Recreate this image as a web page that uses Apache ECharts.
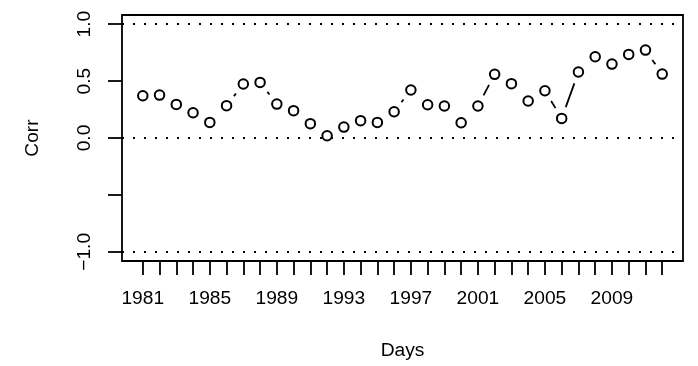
<!DOCTYPE html>
<html>
<head>
<meta charset="utf-8">
<script src="https://cdn.jsdelivr.net/npm/echarts@6/dist/echarts.min.js"></script>
<style>
html,body{margin:0;padding:0;background:#fff;}
#chart{width:698px;height:366px;}
</style>
</head>
<body>
<div id="chart"></div>
<script>
var years = [1981,1982,1983,1984,1985,1986,1987,1988,1989,1990,1991,1992,1993,1994,1995,1996,
             1997,1998,1999,2000,2001,2002,2003,2004,2005,2006,2007,2008,2009,2010,2011,2012];
var corr = [0.371,0.377,0.295,0.222,0.137,0.284,0.474,0.488,0.298,0.240,0.126,0.020,0.096,0.152,0.137,0.231,
            0.421,0.292,0.281,0.134,0.281,0.559,0.477,0.325,0.415,0.172,0.579,0.713,0.649,0.734,0.772,0.561];
var xTickLabels = ["1981","1985","1989","1993","1997","2001","2005","2009"];
var yTickValues = [-1, -0.5, 0, 0.5, 1];
var yTickLabels = ["\u22121.0", "0.0", "0.5", "1.0"];
var yLabelValues = [-1, 0, 0.5, 1];
var refLines = [-1, 0, 1];

var FONT = "'Liberation Sans', Arial, Helvetica, sans-serif";
var FS = 19.2;
var LW = 1.8;
var GAP = 12;

var points = years.map(function (y, i) { return [y, corr[i]]; });
var segs = [];
for (var i = 0; i < years.length - 1; i++) {
  segs.push([years[i], corr[i], years[i + 1], corr[i + 1]]);
}

var chart = echarts.init(document.getElementById('chart'), null, {renderer: 'canvas'});
chart.setOption({
  animation: false,
  backgroundColor: '#fff',
  grid: {
    left: 122, top: 15, width: 561, height: 246,
    show: true, borderColor: '#000', borderWidth: LW,
    backgroundColor: 'transparent',
    containLabel: false, outerBoundsMode: 'none'
  },
  xAxis: {
    type: 'value',
    position: 'bottom',
    min: years[0] - 0.04 * (years[years.length - 1] - years[0]),
    max: years[years.length - 1] + 0.04 * (years[years.length - 1] - years[0]),
    name: 'Days',
    nameLocation: 'middle',
    nameGap: 80,
    nameTextStyle: {fontFamily: FONT, fontSize: FS, color: '#000'},
    axisLine: {show: false, onZero: false},
    splitLine: {show: false},
    axisTick: {show: true, inside: false, length: 14, lineStyle: {color: '#000', width: LW},
               customValues: years},
    axisLabel: {show: true, margin: 28, fontFamily: FONT, fontSize: FS, color: '#000',
                customValues: xTickLabels.map(Number),
                formatter: function (v) { return String(v); }}
  },
  yAxis: {
    type: 'value',
    position: 'left',
    min: -1.08, max: 1.08,
    name: 'Corr',
    nameLocation: 'middle',
    nameRotate: 90,
    nameGap: 80,
    nameTextStyle: {fontFamily: FONT, fontSize: FS, color: '#000'},
    axisLine: {show: false, onZero: false},
    splitLine: {show: false},
    axisTick: {show: true, inside: false, length: 14, lineStyle: {color: '#000', width: LW},
               customValues: yTickValues},
    axisLabel: {show: true, margin: 28, rotate: 90, fontFamily: FONT, fontSize: FS, color: '#000',
                customValues: yLabelValues,
                formatter: function (v) {
                  var k = yLabelValues.indexOf(v);
                  return k >= 0 ? yTickLabels[k] : '';
                }}
  },
  series: [
    {
      type: 'custom',
      coordinateSystem: 'cartesian2d',
      silent: true,
      data: segs,
      encode: {x: [0, 2], y: [1, 3]},
      renderItem: function (params, api) {
        var p0 = api.coord([api.value(0), api.value(1)]);
        var p1 = api.coord([api.value(2), api.value(3)]);
        var dx = p1[0] - p0[0], dy = p1[1] - p0[1];
        var d = Math.sqrt(dx * dx + dy * dy);
        if (d <= 2 * GAP) return null;
        var ux = dx / d, uy = dy / d;
        return {
          type: 'line',
          shape: {x1: p0[0] + ux * GAP, y1: p0[1] + uy * GAP, x2: p1[0] - ux * GAP, y2: p1[1] - uy * GAP},
          style: {stroke: '#000', lineWidth: LW}
        };
      }
    },
    {
      type: 'scatter',
      data: points,
      symbol: 'emptyCircle',
      symbolSize: 9.5,
      itemStyle: {color: '#000', borderColor: '#000', borderWidth: LW, opacity: 1},
      z: 5,
      markLine: {
        silent: true,
        symbol: ['none', 'none'],
        label: {show: false},
        emphasis: {disabled: true},
        lineStyle: {color: '#000', type: [2, 9], width: LW},
        data: refLines.map(function (v) { return {yAxis: v}; })
      }
    }
  ]
});
</script>
</body>
</html>
